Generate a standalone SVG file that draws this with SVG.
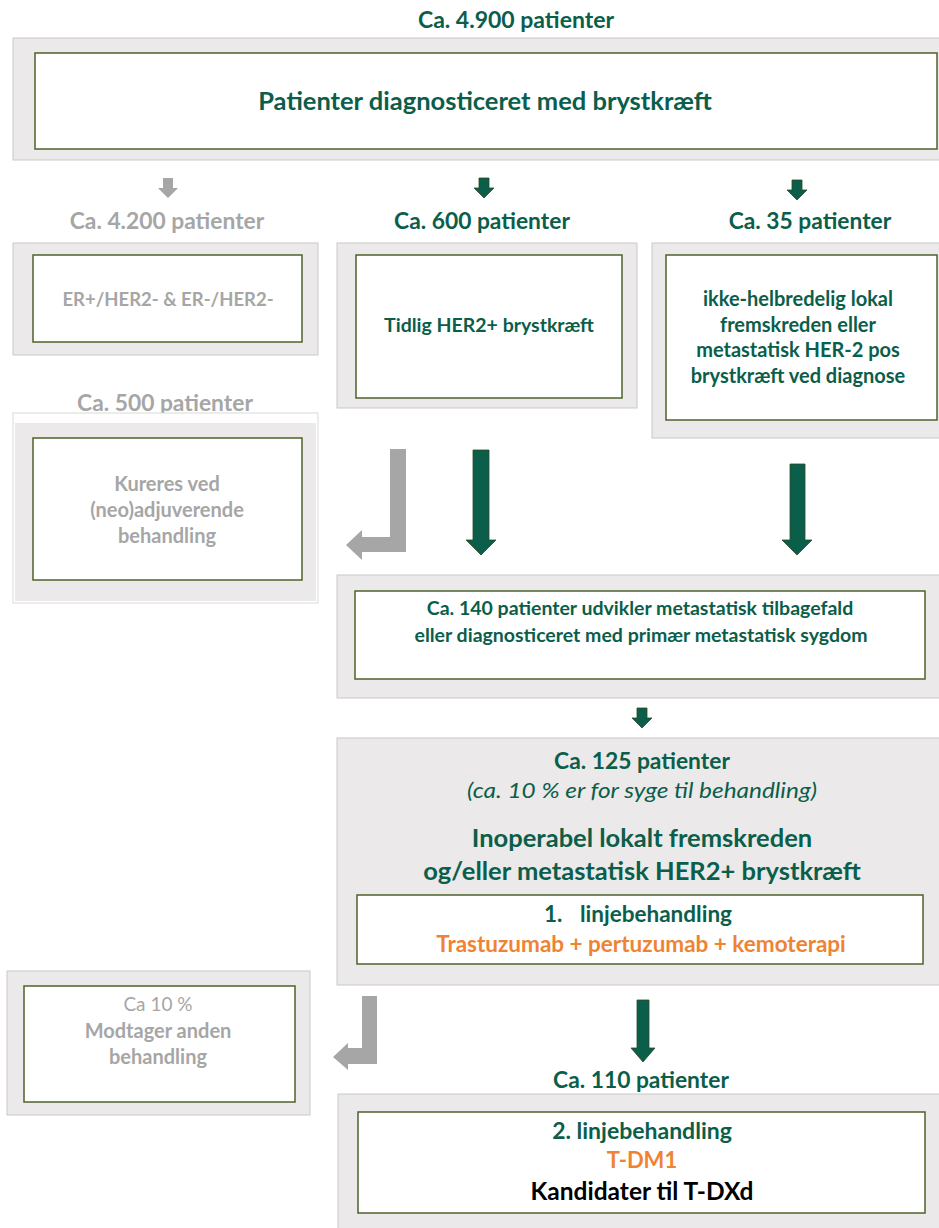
<svg xmlns="http://www.w3.org/2000/svg" width="939" height="1228" viewBox="0 0 939 1228">
<style>
.outer{fill:#EBE9E9;stroke:#C9C9C9;stroke-width:1}
.inner{fill:#FFFFFF;stroke:#4F6228;stroke-width:1.5}
text{font-family:Lato,"Open Sans","Liberation Sans",sans-serif;text-anchor:middle}
.g{fill:#0B5E4A;font-weight:bold}
.gr{fill:#A6A6A6;font-weight:bold}
.or{fill:#EE8433;font-weight:bold}
.bk{fill:#000000;font-weight:bold}
.garr{fill:#0B5E4A;stroke:#2E4A1E;stroke-width:0.8}
.parr{fill:#A6A6A6}
</style>
<rect width="939" height="1228" fill="#FFFFFF"/>

<g id="connectors">
<polygon class="parr" points="163,178 173,178 173,188 178,188 168,198 158,188 163,188"/>
<polygon class="garr" points="479,178 489,178 489,188 494,188 484,198 474,188 479,188"/>
<polygon class="garr" points="792,180 802,180 802,190 807,190 797,200 787,190 792,190"/>
<polygon class="parr" points="390,449 406,449 406,552 362,552 362,560 346,545 362,530 362,537 390,537"/>
<polygon class="garr" points="473,450 489,450 489,540 496,540 481,555 466,540 473,540"/>
<polygon class="garr" points="790,464 805,464 805,540 812,540 797,555 782,540 790,540"/>
<polygon class="garr" points="637,708 647,708 647,718 652,718 642,728 632,718 637,718"/>
<polygon class="parr" points="362,996 377,996 377,1064 348,1064 348,1070 333,1057 348,1043 348,1048 362,1048"/>
<polygon class="garr" points="637,1000 649,1000 649,1048 655,1048 643,1062 631,1048 637,1048"/>
</g>

<g id="top">
<text class="g" x="516" y="28" font-size="23">Ca. 4.900 patienter</text>
<rect class="outer" x="13" y="38" width="940" height="122"/>
<rect class="inner" x="35" y="53" width="902" height="96"/>
<text class="g" x="485" y="110" font-size="25.5">Patienter diagnosticeret med brystkræft</text>
</g>

<g id="er-neg">
<text class="gr" x="167" y="229" font-size="22.8">Ca. 4.200 patienter</text>
<rect class="outer" x="13" y="243" width="305" height="112"/>
<rect class="inner" x="33" y="255" width="269" height="87"/>
<text class="gr" x="168" y="306" font-size="18.5">ER+/HER2- &amp; ER-/HER2-</text>
</g>

<g id="tidlig">
<text class="g" x="482" y="229" font-size="22.8">Ca. 600 patienter</text>
<rect class="outer" x="337" y="243" width="300" height="165"/>
<rect class="inner" x="356" y="255" width="266" height="143"/>
<text class="g" x="489" y="332" font-size="19.5">Tidlig HER2+ brystkræft</text>
</g>

<g id="ikke-helbredelig">
<text class="g" x="810" y="229" font-size="22.8">Ca. 35 patienter</text>
<rect class="outer" x="652" y="243" width="300" height="195"/>
<rect class="inner" x="666" y="255" width="271" height="165"/>
<text class="g" x="798" y="306" font-size="20">ikke-helbredelig lokal</text>
<text class="g" x="798" y="332" font-size="20">fremskreden eller</text>
<text class="g" x="798" y="357" font-size="20">metastatisk HER-2 pos</text>
<text class="g" x="798" y="383" font-size="20">brystkræft ved diagnose</text>
</g>

<g id="kureres">
<text class="gr" x="165" y="411" font-size="22.8">Ca. 500 patienter</text>
<rect x="13" y="413" width="305" height="190" fill="#FFFFFF" stroke="#D9D9D9" stroke-width="1"/>
<rect x="15" y="423" width="301" height="178" fill="#EBE9E9"/>
<rect class="inner" x="33" y="438" width="269" height="142"/>
<text class="gr" x="167" y="491" font-size="20">Kureres ved</text>
<text class="gr" x="167" y="517" font-size="20">(neo)adjuverende</text>
<text class="gr" x="167" y="543" font-size="20">behandling</text>
</g>

<g id="metastatisk">
<rect class="outer" x="337" y="575" width="615" height="123"/>
<rect class="inner" x="355" y="591" width="570" height="88"/>
<text class="g" x="640" y="615" font-size="19.5">Ca. 140 patienter udvikler metastatisk tilbagefald</text>
<text class="g" x="641" y="642" font-size="19.5">eller diagnosticeret med primær metastatisk sygdom</text>
</g>

<g id="inoperabel">
<rect class="outer" x="337" y="738" width="615" height="247"/>
<text class="g" x="642" y="769" font-size="22.8">Ca. 125 patienter</text>
<text x="642" y="798" font-size="22" font-style="italic" fill="#0B5E4A" textLength="350" lengthAdjust="spacingAndGlyphs">(ca. 10 % er for syge til behandling)</text>
<text class="g" x="642" y="847" font-size="25.5">Inoperabel lokalt fremskreden</text>
<text class="g" x="642" y="880" font-size="25.5">og/eller metastatisk HER2+ brystkræft</text>
<rect class="inner" x="357" y="895" width="566" height="69"/>
<text class="g" x="544" y="922" font-size="22.5" text-anchor="start" style="text-anchor:start">1.</text>
<text class="g" x="580" y="922" font-size="22.5" style="text-anchor:start">linjebehandling</text>
<text class="or" x="641" y="952" font-size="22.5">Trastuzumab + pertuzumab + kemoterapi</text>
</g>

<g id="anden">
<rect class="outer" x="7" y="971" width="303" height="144"/>
<rect class="inner" x="24" y="986" width="271" height="116"/>
<text x="158" y="1011" font-size="19" fill="#A6A6A6">Ca 10 %</text>
<text class="gr" x="158" y="1038" font-size="20">Modtager anden</text>
<text class="gr" x="158" y="1064" font-size="20">behandling</text>
</g>

<g id="linje2">
<text class="g" x="641" y="1088" font-size="22.8">Ca. 110 patienter</text>
<rect class="outer" x="338" y="1094" width="614" height="140"/>
<rect class="inner" x="358" y="1112" width="567" height="101"/>
<text class="g" x="642" y="1139" font-size="23">2. linjebehandling</text>
<text class="or" x="642" y="1168" font-size="22">T-DM1</text>
<text class="bk" x="642" y="1200" font-size="24.5">Kandidater til T-DXd</text>
</g>
</svg>
